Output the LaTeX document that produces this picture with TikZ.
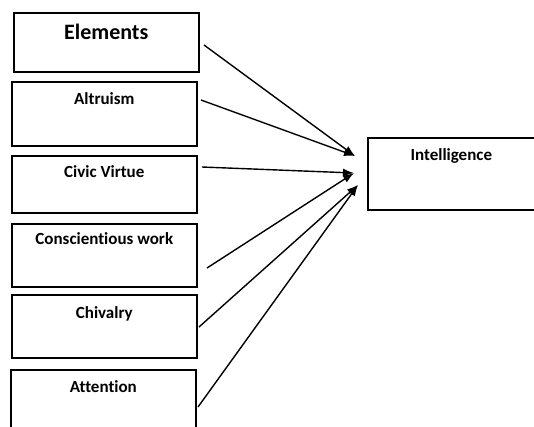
\documentclass[tikz,border=0pt]{standalone}
\usepackage{fontspec}
\setmainfont[Ligatures=NoCommon]{Carlito}
\usetikzlibrary{arrows.meta}
\tikzset{>={Latex[length=11pt,width=8pt]}}
\tikzset{box/.style={draw,line width=1.6pt,inner ysep=0pt,anchor=north west,minimum width=185pt,font=\bfseries\fontsize{17}{17}\selectfont}}
\tikzstyle{link}=[->,line width=1.4pt]

\begin{document}
\begin{tikzpicture}[x=1pt,y=-1pt]
  \clip (0,0) rectangle (534,426);
  \node[box,text height=27pt,text depth=32pt,font=\bfseries\fontsize{22}{22}\selectfont] (elem) at (13,12) {Elements};
  \node[box,text height=23pt,text depth=41pt] (altr) at (11,81) {Altruism};
  \node[box,text height=22pt,text depth=35pt] (civic) at (11,155) {Civic Virtue};
  \node[box,text height=21pt,text depth=42pt] (consc) at (11,223) {Conscientious work};
  \node[box,text height=24pt,text depth=39pt] (chiv) at (11,294) {Chivalry};
  \node[box,text height=23pt,text depth=47pt] (attn) at (10,369) {Attention};
  \node[box,minimum width=167pt,text height=23pt,text depth=49pt] (intel) at (367,137) {Intelligence};
  \coordinate (s1) at (204,45);
  \coordinate (s2) at (201,100);
  \coordinate (s3) at (202,167);
  \coordinate (s4) at (207,268);
  \coordinate (s5) at (199,327);
  \coordinate (s6) at (198,407);
  \coordinate (t1) at (355,156);
  \coordinate (t2) at (354,173);
  \coordinate (t3) at (358,185);
  \draw[link] (s1) -- (t1);
  \draw[link] (s2) -- (t1);
  \draw[link] (s3) -- (t2);
  \draw[link] (s4) -- (t2);
  \draw[link] (s5) -- (t3);
  \draw[link] (s6) -- (t3);
\end{tikzpicture}
\end{document}
